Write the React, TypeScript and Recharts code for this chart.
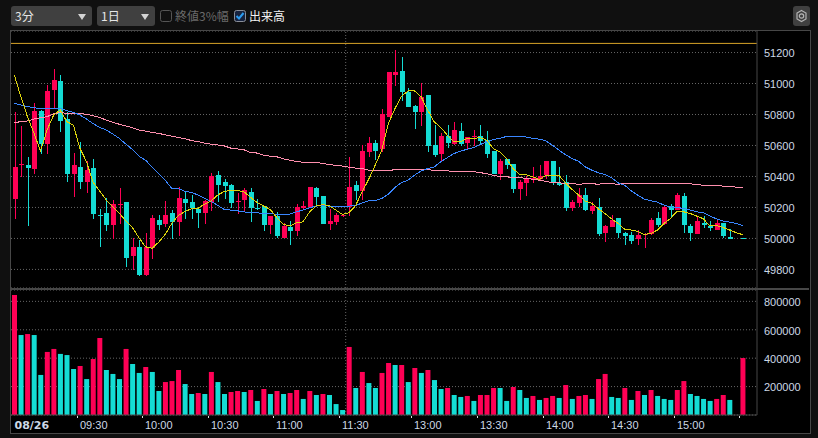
import {
  Bar,
  CartesianGrid,
  Cell,
  ComposedChart,
  Line,
  ReferenceLine,
  XAxis,
  YAxis,
} from 'recharts';

const TIMES = [
  '09:00', '09:03', '09:06', '09:09', '09:12', '09:15', '09:18', '09:21', '09:24', '09:27',
  '09:30', '09:33', '09:36', '09:39', '09:42', '09:45', '09:48', '09:51', '09:54', '09:57',
  '10:00', '10:03', '10:06', '10:09', '10:12', '10:15', '10:18', '10:21', '10:24', '10:27',
  '10:30', '10:33', '10:36', '10:39', '10:42', '10:45', '10:48', '10:51', '10:54', '10:57',
  '11:00', '11:03', '11:06', '11:09', '11:12', '11:15', '11:18', '11:21', '11:24', '11:27',
  '11:30', '12:30', '12:33', '12:36', '12:39', '12:42', '12:45', '12:48', '12:51', '12:54',
  '12:57', '13:00', '13:03', '13:06', '13:09', '13:12', '13:15', '13:18', '13:21', '13:24',
  '13:27', '13:30', '13:33', '13:36', '13:39', '13:42', '13:45', '13:48', '13:51', '13:54',
  '13:57', '14:00', '14:03', '14:06', '14:09', '14:12', '14:15', '14:18', '14:21', '14:24',
  '14:27', '14:30', '14:33', '14:36', '14:39', '14:42', '14:45', '14:48', '14:51', '14:54',
  '14:57', '15:00', '15:03', '15:06', '15:09', '15:12', '15:15', '15:18', '15:21', '15:24',
  '15:27', '15:30',
];

const OPENS = [
  50255, 50475, 50474, 50449, 50823, 50610, 50958, 51016, 50771, 50416,
  50461, 50365, 50455, 50150, 50164, 50086, 50220, 50235, 49886, 49944,
  49764, 49938, 50118, 50093, 50164, 50105, 50254, 50235, 50189, 50164,
  50235, 50409, 50364, 50344, 50239, 50247, 50299, 50197, 50209, 50086,
  50144, 50002, 50073, 50047, 50198, 50202, 50325, 50273, 50092, 50105,
  50148, 50202, 50344, 50305, 50557, 50615, 50576, 50783, 51053, 51079,
  50944, 50854, 50815, 50925, 50602, 50544, 50660, 50608, 50692, 50615,
  50654, 50660, 50634, 50563, 50415, 50512, 50479, 50318, 50357, 50380,
  50383, 50409, 50499, 50357, 50363, 50196, 50228, 50280, 50176, 50202,
  50034, 50073, 50131, 50034, 50021, 49996, 50021, 50028, 50131, 50092,
  50209, 50183, 50273, 50080, 50028, 50099, 50080, 50054, 50099, 50009,
  null, 50000,
];
const HIGHS = [
  50814, 50726, 50526, 50874, 50830, 50990, 51094, 51055, 50818, 50552,
  50623, 50500, 50513, 50189, 50258, 50250, 50325, 50235, 50002, 49989,
  50035, 50151, 50151, 50241, 50183, 50331, 50305, 50280, 50195, 50247,
  50422, 50434, 50383, 50350, 50293, 50325, 50325, 50254, 50209, 50144,
  50170, 50101, 50112, 50221, 50241, 50331, 50331, 50273, 50189, 50163,
  50155, 50525, 50370, 50602, 50654, 50634, 50834, 51073, 51215, 51170,
  50970, 50860, 51002, 50925, 50731, 50679, 50731, 50750, 50744, 50654,
  50699, 50731, 50692, 50563, 50510, 50512, 50479, 50376, 50402, 50460,
  50473, 50499, 50499, 50460, 50409, 50247, 50325, 50325, 50234, 50260,
  50085, 50150, 50131, 50041, 50041, 50054, 50032, 50131, 50170, 50215,
  50221, 50292, 50292, 50092, 50144, 50144, 50112, 50118, 50099, 50060,
  null, 50000,
];
const LOWS = [
  50128, 50399, 50077, 50416, 50545, 50545, 50840, 50689, 50367, 50268,
  50320, 50294, 50126, 49944, 50047, 49996, 50093, 49815, 49796, 49758,
  49760, 49867, 50054, 50073, 49996, 50015, 50125, 50125, 50067, 50093,
  50176, 50234, 50254, 50196, 50157, 50170, 50105, 50183, 50047, 50028,
  50002, 50002, 49957, 50015, 50183, 50202, 50209, 50092, 50054, 50086,
  50140, 50144, 50247, 50247, 50525, 50505, 50557, 50783, 50983, 50886,
  50847, 50705, 50725, 50557, 50525, 50492, 50583, 50600, 50596, 50576,
  50596, 50602, 50518, 50415, 50376, 50447, 50292, 50247, 50273, 50357,
  50376, 50383, 50344, 50340, 50176, 50176, 50202, 50176, 50157, 50015,
  49976, 50073, 50002, 49957, 49963, 49957, 49938, 50021, 50073, 50086,
  50138, 50183, 50034, 49983, 50028, 50067, 50047, 50054, 50002, 49996,
  null, 50000,
];
const CLOSES = [
  50461, 50482, 50455, 50823, 50610, 50952, 51023, 50758, 50416, 50474,
  50365, 50442, 50158, 50147, 50086, 50222, 50224, 49873, 49944, 49764,
  49944, 50131, 50086, 50151, 50105, 50260, 50228, 50196, 50164, 50241,
  50402, 50344, 50338, 50228, 50243, 50312, 50196, 50195, 50086, 50144,
  50015, 50080, 50047, 50202, 50209, 50331, 50267, 50092, 50112, 50151,
  50152, 50331, 50305, 50563, 50615, 50563, 50802, 51073, 51073, 50944,
  50847, 50815, 50912, 50596, 50538, 50660, 50615, 50699, 50608, 50654,
  50660, 50628, 50544, 50415, 50499, 50473, 50318, 50363, 50383, 50389,
  50402, 50499, 50357, 50344, 50196, 50234, 50280, 50183, 50209, 50028,
  50080, 50118, 50034, 50015, 49983, 50021, 50028, 50118, 50086, 50202,
  50183, 50280, 50086, 50034, 50112, 50086, 50067, 50099, 50015, 49996,
  null, 50000,
];

const MA_SHORT = [
  51055, 50915, 50786, 50679, 50565, 50700, 50797, 50829, 50754, 50732,
  50582, 50496, 50363, 50307, 50249, 50206, 50163, 50112, 50071, 50004,
  49946, 49936, 49976, 50026, 50097, 50148, 50174, 50191, 50194, 50222,
  50243, 50280, 50303, 50310, 50310, 50301, 50265, 50232, 50209, 50187,
  50135, 50092, 50080, 50101, 50107, 50172, 50209, 50219, 50211, 50183,
  50155, 50166, 50211, 50301, 50381, 50473, 50570, 50742, 50838, 50918,
  50952, 50952, 50914, 50828, 50752, 50716, 50666, 50623, 50623, 50645,
  50645, 50651, 50634, 50580, 50559, 50516, 50451, 50413, 50411, 50398,
  50381, 50406, 50406, 50406, 50359, 50316, 50280, 50241, 50226, 50191,
  50161, 50127, 50097, 50060, 50054, 50045, 50026, 50032, 50054, 50097,
  50129, 50176, 50172, 50161, 50144, 50127, 50080, 50084, 50071, 50054,
  50037, 50024,
];
const MA_MID = [
  50872, 50861, 50851, 50844, 50836, 50836, 50842, 50840, 50825, 50814,
  50797, 50771, 50741, 50717, 50700, 50674, 50646, 50609, 50574, 50531,
  50505, 50462, 50419, 50376, 50323, 50320, 50305, 50297, 50280, 50258,
  50239, 50213, 50187, 50183, 50178, 50172, 50165, 50165, 50161, 50161,
  50155, 50153, 50157, 50172, 50183, 50198, 50209, 50211, 50209, 50206,
  50206, 50209, 50211, 50230, 50243, 50245, 50258, 50286, 50329, 50361,
  50376, 50409, 50436, 50451, 50462, 50495, 50522, 50548, 50563, 50576,
  50587, 50606, 50623, 50639, 50647, 50658, 50658, 50658, 50655, 50645,
  50641, 50630, 50602, 50570, 50540, 50516, 50497, 50462, 50441, 50424,
  50413, 50393, 50359, 50344, 50307, 50280, 50254, 50243, 50234, 50215,
  50204, 50200, 50193, 50183, 50172, 50166, 50144, 50127, 50112, 50105,
  50097, 50084,
];
const MA_LONG = [
  50747, 50754, 50758, 50771, 50780, 50786, 50805, 50812, 50808, 50808,
  50808, 50801, 50793, 50780, 50765, 50750, 50737, 50726, 50715, 50699,
  50693, 50684, 50678, 50669, 50660, 50652, 50643, 50632, 50625, 50615,
  50608, 50603, 50597, 50583, 50578, 50572, 50555, 50551, 50538, 50531,
  50527, 50514, 50505, 50497, 50492, 50490, 50490, 50484, 50477, 50471,
  50467, 50460, 50454, 50452, 50441, 50439, 50436, 50436, 50445, 50445,
  50445, 50445, 50445, 50445, 50439, 50436, 50436, 50432, 50432, 50432,
  50432, 50424, 50419, 50406, 50400, 50398, 50393, 50391, 50389, 50381,
  50376, 50368, 50361, 50359, 50355, 50355, 50348, 50355, 50353, 50350,
  50355, 50353, 50350, 50355, 50355, 50355, 50355, 50355, 50355, 50355,
  50355, 50355, 50355, 50353, 50346, 50344, 50344, 50342, 50338, 50335,
  50331, 50329,
];

const VOLUMES = [
  845000, 563000, 570000, 563000, 282000, 444000, 465000, 430000, 422000, 324000,
  345000, 253000, 394000, 542000, 317000, 289000, 253000, 465000, 359000, 296000,
  338000, 303000, 169000, 232000, 239000, 317000, 218000, 148000, 155000, 148000,
  303000, 232000, 148000, 162000, 169000, 162000, 176000, 99000, 183000, 148000,
  169000, 148000, 155000, 176000, 113000, 169000, 141000, 148000, 141000, 77000,
  35000, 479000, 190000, 303000, 225000, 190000, 296000, 366000, 352000, 352000,
  232000, 331000, 296000, 317000, 246000, 183000, 190000, 141000, 127000, 134000,
  99000, 141000, 141000, 190000, 190000, 99000, 197000, 176000, 120000, 134000,
  106000, 120000, 134000, 120000, 211000, 113000, 134000, 141000, 113000, 253000,
  289000, 127000, 120000, 190000, 106000, 169000, 141000, 176000, 134000, 113000,
  106000, 176000, 239000, 148000, 134000, 113000, 99000, 113000, 141000, 106000,
  0, 401000,
];
// r = red bar, t = teal bar
const VOLUME_SIDES = [
  'r', 't', 'r', 't', 't', 'r', 'r', 't', 't', 't',
  'r', 't', 'r', 'r', 't', 't', 't', 'r', 't', 't',
  'r', 't', 't', 'r', 'r', 'r', 't', 't', 'r', 't',
  'r', 't', 't', 'r', 'r', 't', 'r', 't', 'r', 't',
  'r', 't', 'r', 'r', 't', 'r', 't', 'r', 't', 't',
  't', 'r', 't', 'r', 't', 't', 'r', 'r', 't', 'r',
  't', 'r', 't', 'r', 't', 't', 'r', 't', 't', 'r',
  't', 'r', 'r', 'r', 't', 't', 'r', 't', 't', 'r',
  't', 'r', 'r', 't', 'r', 't', 'r', 'r', 't', 'r',
  'r', 't', 't', 'r', 't', 'r', 't', 'r', 't', 't',
  't', 'r', 'r', 't', 't', 't', 't', 'r', 'r', 't',
  't', 'r',
];

const PRICE_TICKS = [49800, 50000, 50200, 50400, 50600, 50800, 51000, 51200];
const VOLUME_TICKS = [200000, 400000, 600000, 800000];
const TIME_TICKS = ['09:00', '09:30', '10:00', '10:30', '11:00', '11:30', '13:00', '13:30', '14:00', '14:30', '15:00', '15:30'];
const TIME_LABELS: Record<string, string> = {
  '09:00': '08/26',
  '09:30': '09:30',
  '10:00': '10:00',
  '10:30': '10:30',
  '11:00': '11:00',
  '11:30': '11:30',
  '13:00': '13:00',
  '13:30': '13:30',
  '14:00': '14:00',
  '14:30': '14:30',
  '15:00': '15:00',
};
const DAY_HIGH = 51259;

const RED = '#ff0055';
const TEAL = '#14dcd4';
const FRAME = '#474747';
const GRID = '#666666';
const LABEL = '#cdd8e6';
const AXIS_FONT = '"Liberation Sans", sans-serif';
const UI_FONT = '"Noto Sans CJK JP", sans-serif';

const priceData = TIMES.map((time, i) => ({
  time,
  open: OPENS[i],
  high: HIGHS[i],
  low: LOWS[i],
  close: CLOSES[i],
  maShort: MA_SHORT[i],
  maMid: MA_MID[i],
  maLong: MA_LONG[i],
}));

const volumeData = TIMES.map((time, i) => ({
  time,
  volume: VOLUMES[i],
  side: VOLUME_SIDES[i],
}));

function Candle(props: any) {
  const { x, y, width, height, payload } = props;
  if (payload.high == null) return null;
  const { open, high, low, close } = payload;
  const color = close > open ? RED : TEAL;
  const perUnit = high > low ? height / (high - low) : 0;
  const bodyTop = y + (high - Math.max(open, close)) * perUnit;
  const bodyHeight = Math.max(Math.abs(open - close) * perUnit, 1);
  const mid = Math.round(x + width / 2);
  return (
    <g shapeRendering="crispEdges">
      <rect x={mid - 0.5} y={y} width={1} height={Math.max(height, 1)} fill={color} />
      <rect x={mid - 2.5} y={bodyTop} width={5} height={bodyHeight} fill={color} />
    </g>
  );
}

function TimeTick(props: any) {
  const { x, y, payload } = props;
  const label = TIME_LABELS[payload.value];
  const first = payload.value === TIME_TICKS[0];
  const left = Math.round(x - 3.3) + 0.5;
  return (
    <g>
      {!first && <line x1={left} x2={left} y1={y + 1} y2={y + 3} stroke="#dddddd" />}
      {label && (
        <text
          x={first ? left + 3 : left + 2.5}
          y={y + 14}
          fill={LABEL}
          fontSize={11}
          fontWeight={first ? 700 : 400}
          fontFamily={first ? '"DejaVu Sans", sans-serif' : AXIS_FONT}
        >
          {label}
        </text>
      )}
    </g>
  );
}

function SelectBox({ left, width, text }: { left: number; width: number; text: string }) {
  return (
    <div
      style={{
        position: 'absolute',
        left,
        top: 6,
        width,
        height: 20,
        background: '#404040',
        borderRadius: 3,
        color: '#e6e6e6',
        fontSize: 12,
        lineHeight: '20px',
        textIndent: 4,
      }}
    >
      {text}
      <span
        style={{
          position: 'absolute',
          right: 6,
          top: 8,
          width: 0,
          height: 0,
          borderLeft: '4px solid transparent',
          borderRight: '4px solid transparent',
          borderTop: '6px solid #d4d4d4',
        }}
      />
    </div>
  );
}

function CheckBox({ left, text, color, checked }: { left: number; text: string; color: string; checked: boolean }) {
  return (
    <div style={{ position: 'absolute', left, top: 6, height: 20, color, fontSize: 12, lineHeight: '20px', whiteSpace: 'nowrap' }}>
      <svg width={12} height={12} style={{ position: 'absolute', left: 0, top: 4 }}>
        <rect x={0.5} y={0.5} width={11} height={11} rx={2} fill={checked ? '#17233f' : 'none'} stroke={checked ? '#8a8f9a' : '#555555'} />
        {checked && <path d="M2.5 6 L5 8.5 L9.5 3" fill="none" stroke="#2b9cf0" strokeWidth={2} />}
      </svg>
      <span style={{ marginLeft: 15 }}>{text}</span>
    </div>
  );
}

export default function App() {
  return (
    <div style={{ position: 'fixed', left: 0, top: 0, width: 818, height: 438, background: '#101010', overflow: 'hidden', fontFamily: UI_FONT }}>
      <style>{'.recharts-line-curve { shape-rendering: crispEdges; }'}</style>
      <SelectBox left={11} width={81} text="3分" />
      <SelectBox left={97} width={58} text="1日" />
      <CheckBox left={160} text="終値3%幅" color="#6a6a6a" checked={false} />
      <CheckBox left={234} text="出来高" color="#f0f0f0" checked />
      <div style={{ position: 'absolute', left: 793, top: 6, width: 17, height: 20, background: '#404040', borderRadius: 3 }}>
        <svg width={17} height={20}>
          <path d="M8.5 4.5 L13 7 L13 13 L8.5 15.5 L4 13 L4 7 Z" fill="none" stroke="#b5b5b5" strokeWidth={1.2} />
          <circle cx={8.5} cy={10} r={2.2} fill="none" stroke="#b5b5b5" strokeWidth={1.2} />
        </svg>
      </div>

      {/* frame */}
      <div style={{ position: 'absolute', left: 10, top: 30, width: 799, height: 402, background: '#000', border: `1px solid ${FRAME}` }} />
      <div style={{ position: 'absolute', left: 11, top: 288, width: 798, height: 2, background: FRAME }} />

      <div style={{ position: 'absolute', left: 0, top: 31 }}>
        <ComposedChart width={818} height={257} data={priceData} margin={{ top: 0, right: 0, bottom: 0, left: 11 }}>
          <CartesianGrid horizontal vertical={false} stroke={GRID} strokeDasharray="1 2" />
          <XAxis dataKey="time" hide padding={{ left: 0, right: 11 }} />
          <YAxis
            orientation="right"
            width={61}
            domain={[49680, 51339]}
            allowDataOverflow
            ticks={PRICE_TICKS}
            interval={0}
            tickSize={0}
            tickMargin={7}
            axisLine={{ stroke: FRAME }}
            tickLine={false}
            tick={{ fill: LABEL, fontSize: 11, fontFamily: AXIS_FONT, dy: 1 }}
          />
          <ReferenceLine y={DAY_HIGH} stroke="#d8a428" strokeWidth={1} />
          <ReferenceLine x="12:30" position="start" stroke={GRID} strokeDasharray="1 2" />
          <Bar
            dataKey={(d: any) => (d.high == null ? null : [d.low, d.high])}
            shape={<Candle />}
            barSize={5}
            isAnimationActive={false}
          />
          <Line dataKey="maLong" type="linear" stroke="#ff8fae" strokeWidth={1} dot={false} isAnimationActive={false} />
          <Line dataKey="maMid" type="linear" stroke="#3a86ff" strokeWidth={1} dot={false} isAnimationActive={false} />
          <Line dataKey="maShort" type="linear" stroke="#dcd40c" strokeWidth={1} dot={false} isAnimationActive={false} />
        </ComposedChart>
      </div>

      <div style={{ position: 'absolute', left: 0, top: 290 }}>
        <ComposedChart width={818} height={143} data={volumeData} margin={{ top: 0, right: 0, bottom: 0, left: 11 }}>
          <CartesianGrid horizontal vertical={false} stroke={GRID} strokeDasharray="1 2" />
          <XAxis
            dataKey="time"
            height={18}
            padding={{ left: 0, right: 11 }}
            ticks={TIME_TICKS}
            interval={0}
            tickSize={0}
            tickMargin={0}
            axisLine={{ stroke: FRAME }}
            tickLine={false}
            tick={<TimeTick />}
          />
          <YAxis
            orientation="right"
            width={61}
            domain={[0, 880000]}
            allowDataOverflow
            ticks={VOLUME_TICKS}
            interval={0}
            tickSize={0}
            tickMargin={7}
            axisLine={{ stroke: FRAME }}
            tickLine={false}
            tick={{ fill: LABEL, fontSize: 11, fontFamily: AXIS_FONT, dy: 1 }}
          />
          <ReferenceLine x="12:30" position="start" stroke={GRID} strokeDasharray="1 2" />
          <Bar dataKey="volume" barSize={5} isAnimationActive={false}>
            {volumeData.map((d) => (
              <Cell key={d.time} fill={d.side === 'r' ? RED : TEAL} />
            ))}
          </Bar>
        </ComposedChart>
      </div>
    </div>
  );
}
